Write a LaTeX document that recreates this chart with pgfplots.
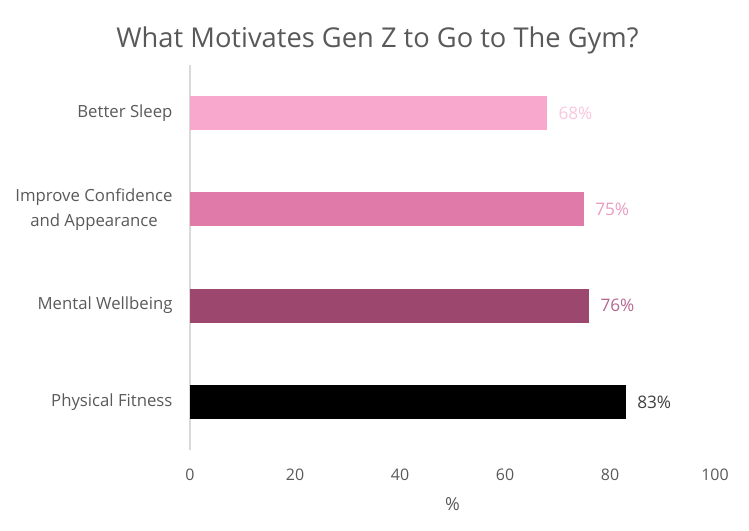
\documentclass[border=0pt]{standalone}
\usepackage{pgfplots}
\pgfplotsset{compat=1.18}
\usepackage{fontspec}
\setmainfont{Open Sans}
\definecolor{c1}{HTML}{F7A8CC}
\definecolor{c2}{HTML}{E07AA8}
\definecolor{c3}{HTML}{9C476E}
\definecolor{c4}{HTML}{000000}
\definecolor{l1}{HTML}{F9C6DD}
\definecolor{l2}{HTML}{E89CC0}
\definecolor{l3}{HTML}{B5678F}
\definecolor{l4}{HTML}{404040}
\definecolor{txt}{HTML}{595959}
\definecolor{axl}{HTML}{D9D9D9}
\begin{document}
\begin{tikzpicture}
\useasboundingbox (-190bp,-81bp) rectangle (559bp,450bp);
\begin{axis}[
  scale only axis, width=525bp, height=385bp,
  xbar, bar width=34bp, bar shift=0pt,
  xmin=0, xmax=100, ymin=-0.5, ymax=3.5,
  xtick={0,20,...,100},
  ytick={0,1,2,3},
  yticklabels={Physical Fitness, Mental Wellbeing, {Improve Confidence\\and Appearance}, Better Sleep},
  yticklabel style={align=center, font=\fontsize{16.8}{25}\selectfont, text=txt, xshift=-14bp},
  xticklabel style={font=\fontsize{16}{19}\selectfont, text=txt, yshift=-15bp},
  /pgf/number format/assume math mode=true,
  axis x line*=bottom, axis y line*=left,
  x axis line style={draw=none},
  y axis line style={axl, line width=1.2pt, -},
  major tick length=0pt,
  xlabel={\%}, xlabel style={font=\fontsize{18}{20}\selectfont, text=txt, yshift=-10bp},
  title={What Motivates Gen Z to Go to The Gym?},
  title style={font=\fontsize{27.4}{32}\selectfont, text=txt, xshift=-75bp, yshift=1bp},
  nodes near coords={\pgfmathprintnumber{\pgfplotspointmeta}\%},
  nodes near coords style={font=\fontsize{17.3}{20}\selectfont, xshift=8bp},
  point meta=x,
  clip=false,
]
\addplot[draw=none, fill=c1, nodes near coords style={text=l1}] coordinates {(68,3)};
\addplot[draw=none, fill=c2, nodes near coords style={text=l2}] coordinates {(75,2)};
\addplot[draw=none, fill=c3, nodes near coords style={text=l3}] coordinates {(76,1)};
\addplot[draw=none, fill=c4, nodes near coords style={text=l4}] coordinates {(83,0)};
\end{axis}
\end{tikzpicture}
\end{document}
